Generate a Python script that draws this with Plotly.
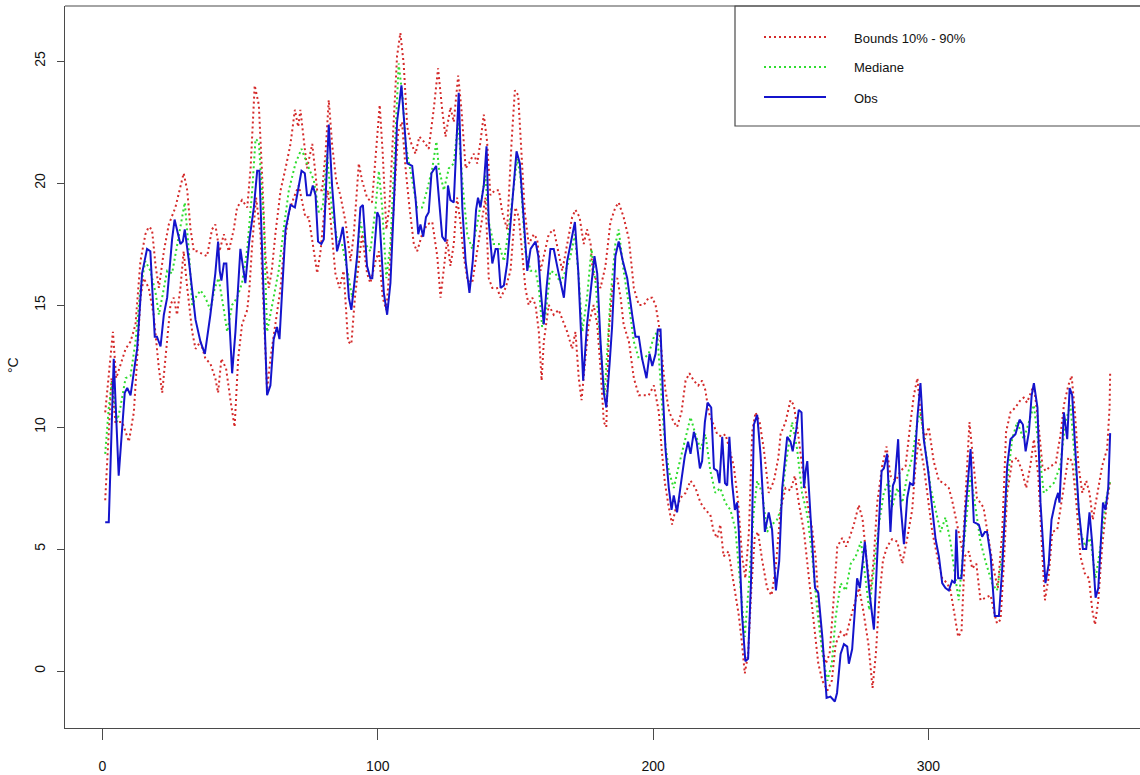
import plotly.graph_objects as go

# Observed daily temperature (day of year, degC)
obs_day = [1, 2.3, 4.1, 5.9, 8.1, 9.0, 10.2, 12.6, 14.4, 16.2, 17.4, 19.0, 19.8, 21.1, 22.3, 23.5, 25.3, 26.2,
           28.3, 29.2, 29.9, 31.4, 33.8, 35.6, 37.2, 39.2, 41.0, 42.0, 42.6, 43.2, 44.1, 45.0, 46.5, 47.1, 48.3,
           50.1, 51.9, 53.4, 55.0, 56.2, 57.0, 58.4, 59.8, 61.0, 62.2, 63.4, 64.3, 66.5, 68.3, 69.9, 72.3, 73.5,
           74.3, 75.5, 76.4, 77.4, 78.3, 79.5, 80.4, 82.2, 83.4, 85.2, 86.4, 87.3, 88.3, 89.5, 90.4, 91.3, 92.5,
           93.7, 94.6, 96.1, 97.3, 98.0, 99.8, 100.6, 102.2, 103.4, 104.6, 105.8, 107.0, 108.6, 109.8, 110.7,
           112.5, 113.7, 114.7, 115.5, 116.5, 117.5, 118.5, 119.5, 121.2, 122.2, 123.4, 124.6, 125.5, 126.4,
           127.6, 129.4, 130.7, 131.9, 133.3, 134.5, 135.7, 136.4, 137.3, 138.5, 139.5, 140.3, 141.6, 142.8,
           143.6, 144.6, 145.8, 147.0, 148.8, 150.4, 151.6, 153.0, 154.3, 155.5, 157.3, 158.3, 159.1, 160.3,
           161.3, 162.7, 163.9, 165.5, 167.6, 168.8, 170.4, 171.6, 172.8, 173.6, 174.6, 176.0, 177.3, 178.7,
           179.7, 180.9, 182.1, 183.0, 184.2, 185.1, 186.3, 187.5, 189.0, 190.6, 192.4, 193.6, 194.8, 196.0,
           197.6, 198.7, 199.7, 200.9, 201.7, 202.7, 203.5, 204.5, 205.7, 206.7, 207.5, 208.7, 210.0, 211.5,
           212.7, 213.6, 214.8, 215.8, 217.0, 217.8, 218.8, 219.8, 221.1, 222.1, 223.3, 224.1, 225.1, 226.1,
           226.9, 227.7, 228.7, 229.7, 230.5, 231.1, 232.3, 233.5, 234.5, 235.6, 236.6, 237.8, 239.0, 240.6,
           242.0, 243.2, 244.6, 245.8, 246.9, 248.7, 249.9, 250.7, 252.0, 252.9, 253.9, 254.8, 255.4, 256.0,
           257.2, 258.8, 260.0, 261.5, 263.0, 264.4, 266.0, 266.8, 268.1, 269.3, 270.5, 271.1, 272.3, 274.1,
           275.1, 276.9, 278.6, 280.2, 281.4, 283.0, 283.8, 285.0, 286.2, 287.1, 287.8, 289.0, 289.9, 291.1,
           292.3, 293.3, 294.5, 296.0, 297.1, 298.3, 299.9, 301.4, 302.6, 303.8, 305.0, 306.2, 307.4, 308.6,
           309.6, 310.1, 310.8, 312.0, 313.5, 315.3, 316.5, 318.3, 319.5, 320.5, 321.3, 322.6, 324.1, 325.6,
           326.8, 328.6, 329.8, 331.6, 333.1, 334.3, 335.3, 336.5, 337.5, 338.3, 339.6, 340.7, 341.9, 342.5,
           343.7, 344.7, 346.2, 347.1, 347.6, 348.6, 349.2, 350.4, 351.3, 352.2, 353.4, 354.6, 356.1, 357.3,
           358.5, 359.5, 360.7, 361.7, 363.4, 364.3, 365.3, 366]
obs_val = [6.1, 6.1, 12.8, 8.0, 11.4, 11.6, 11.3, 13.2, 16.3, 17.3, 17.2, 13.7, 13.7, 13.3, 14.6, 15.3, 17.7, 18.5,
           17.5, 17.6, 18.1, 16.8, 14.4, 13.5, 13.0, 14.6, 16.3, 17.6, 16.4, 16.0, 16.7, 16.7, 13.5, 12.2, 13.9,
           17.3, 15.9, 17.7, 19.0, 20.5, 20.5, 16.0, 11.3, 11.7, 13.6, 14.1, 13.6, 18.1, 19.1, 19.0, 20.5, 20.4,
           19.5, 19.5, 19.9, 19.5, 17.6, 17.5, 17.7, 22.4, 19.9, 17.2, 17.7, 18.2, 17.2, 15.3, 14.8, 15.7, 17.0,
           19.0, 19.1, 16.6, 16.1, 16.1, 18.8, 18.6, 15.5, 14.6, 15.9, 19.0, 22.5, 24.0, 21.9, 20.8,
           20.7, 19.4, 17.9, 18.3, 17.8, 18.6, 18.8, 20.4, 20.7, 19.5, 17.8, 17.6, 19.9, 19.3,
           19.2, 23.7, 19.0, 16.8, 15.5, 16.8, 18.9, 19.4, 19.0, 19.9, 21.5, 18.4, 16.7, 17.3,
           17.3, 15.7, 15.8, 16.7, 19.3, 21.3, 20.8, 18.3, 16.4, 17.3, 17.6, 17.0, 15.7, 14.2,
           15.7, 17.3, 17.3, 16.4, 15.3, 16.8, 17.7, 18.4, 16.4, 14.2, 11.9, 14.2, 15.5, 17.0,
           16.3, 13.5, 11.4, 10.8, 12.6, 14.1, 17.0, 17.6, 16.8, 16.1, 14.6, 13.7, 13.7, 12.8,
           12.0, 13.0, 12.5, 13.0, 14.0, 14.0, 11.5, 9.1, 7.5, 6.6, 7.2, 6.5, 7.6, 8.8,
           9.4, 8.9, 9.8, 9.4, 8.3, 8.6, 10.2, 11.0, 10.8, 8.3, 8.2, 7.7, 9.6, 7.7,
           7.6, 9.6, 7.7, 6.6, 6.9, 5.8, 2.3, 0.4, 0.5, 3.8, 10.1, 10.5, 8.9, 5.7,
           6.5, 5.8, 3.3, 4.5, 7.5, 9.6, 9.4, 9.0, 9.9, 10.7, 10.6, 7.5, 8.2, 8.6,
           6.3, 3.4, 3.2, 1.35, -1.1, -1.05, -1.25, -0.9, 0.7, 1.1, 1.0, 0.3, 0.9, 3.8,
           3.4, 5.3, 3.2, 1.7, 4.7, 8.2, 8.3, 8.9, 5.7, 7.6, 7.8, 9.5, 6.8, 5.2,
           7.1, 7.7, 7.6, 10.4, 11.8, 9.5, 8.2, 6.5, 5.4, 4.7, 3.6, 3.4, 3.3, 3.7,
           3.6, 5.8, 3.8, 3.8, 6.6, 9.1, 6.1, 6.0, 5.5, 5.7, 5.7, 4.7, 2.25, 2.25,
           4.2, 8.4, 9.5, 9.7, 10.3, 10.1, 9.0, 9.8, 11.3, 11.8, 10.8, 6.9, 4.6, 3.6,
           4.4, 6.2, 7.0, 7.3, 6.9, 9.1, 10.6, 9.5, 11.6, 11.3, 9.1, 6.6, 5.0, 5.0,
           6.5, 5.2, 3.0, 3.4, 6.9, 6.6, 7.5, 9.75]

# Ensemble median
med_day = [1, 2.3, 3.5, 5.3, 6.5, 8.4, 10.2, 12.0, 13.8, 15.6, 17.4, 19.3, 20.5, 21.7, 23.5, 25.3, 27.1, 28.3,
           29.9, 31.4, 32.6, 33.8, 35.6, 37.4, 39.2, 40.8, 42.2, 44.1, 45.3, 47.1, 48.9, 50.7, 52.6, 54.4, 55.6,
           56.8, 58.6, 59.8, 61.6, 64.0, 65.8, 67.7, 70.1, 72.3, 74.3, 76.8, 78.6, 80.0, 81.6, 83.4, 85.2, 87.0,
           89.5, 90.7, 91.9, 93.7, 95.5, 97.3, 99.2, 100.4, 101.6, 103.1, 104.6, 106.4, 107.6, 109.1, 110.1,
           112.5, 114.3, 116.1, 117.9, 119.8, 121.3, 122.2, 124.0, 125.8, 127.6, 129.2, 130.7, 132.5, 134.3,
           136.1, 137.9, 139.1, 140.3, 142.1, 144.0, 145.8, 147.6, 149.4, 150.6, 151.8, 153.6, 155.5, 157.3,
           158.5, 159.7, 160.9, 162.7, 164.5, 166.4, 168.2, 170.0, 171.6, 173.0, 174.3, 176.0, 177.6, 179.1,
           180.9, 182.4, 184.5, 186.3, 187.5, 189.3, 191.2, 193.0, 194.8, 196.6, 198.4, 200.3, 201.5, 202.7,
           203.9, 205.7, 207.5, 209.3, 211.8, 213.6, 215.4, 217.2, 219.0, 220.8, 222.6, 224.4, 226.2, 228.1,
           229.9, 231.7, 233.3, 234.8, 236.6, 237.8, 239.6, 241.4, 243.2, 245.0, 246.3, 248.1, 250.5, 252.3,
           254.1, 256.0, 257.8, 259.6, 261.5, 263.3, 264.9, 266.3, 268.1, 270.0, 271.8, 273.6, 275.5, 276.9,
           278.5, 280.2, 282.0, 283.8, 285.6, 286.8, 288.7, 290.5, 292.3, 294.1, 296.0, 297.1, 299.0, 300.8,
           302.6, 304.4, 306.2, 308.0, 309.8, 311.0, 312.8, 315.3, 317.1, 318.9, 320.7, 323.1, 324.9, 326.8,
           328.6, 330.4, 332.2, 334.6, 336.5, 338.3, 340.1, 341.9, 343.7, 345.5, 347.9, 349.7, 351.6, 353.4,
           355.2, 357.0, 358.8, 360.7, 362.5, 364.3, 366]
med_val = [8.9, 10.8, 11.9, 10.2, 10.8, 12.0, 12.1, 13.5, 15.7, 16.8, 16.4, 15.5, 14.6, 15.3, 16.4, 16.3, 17.5, 18.3,
           19.2, 17.2, 15.0, 15.3, 15.6, 15.3, 14.8, 15.7, 16.1, 14.8, 13.9, 15.0, 15.3, 15.9, 17.3, 19.7, 21.8,
           21.7, 18.4, 13.9, 15.0, 16.4, 18.1, 19.7, 20.8, 21.4, 20.8, 20.1, 18.8, 19.0, 21.2, 18.8, 17.7, 17.5,
           16.1, 15.3, 16.1, 18.4, 17.5, 17.2, 19.0, 20.5, 19.0, 16.1, 17.5, 22.1, 24.9, 23.4, 21.6,
           20.1, 19.0, 19.0, 19.7, 20.6, 21.7, 20.6, 19.7, 20.6, 20.8, 22.5, 20.1, 17.9, 17.3,
           18.3, 19.4, 20.3, 18.4, 17.5, 17.5, 16.8, 18.1, 19.7, 21.0, 20.3, 17.2, 16.4, 16.4,
           15.7, 14.1, 14.6, 16.4, 16.3, 15.9, 16.4, 17.0, 17.9, 16.1, 13.9, 15.3, 17.3, 15.9,
           13.3, 11.3, 15.3, 17.5, 18.1, 16.4, 15.0, 13.5, 12.8, 12.8, 13.0, 13.7, 13.9, 11.7,
           9.8, 8.2, 7.5, 8.4, 9.5, 10.4, 9.7, 9.1, 9.7, 8.2, 7.3, 7.5, 6.9, 6.6,
           5.8, 3.3, 1.4, 3.6, 6.6, 7.8, 7.3, 5.7, 6.0, 6.2, 6.6, 8.4, 10.2, 9.1,
           7.3, 6.4, 4.7, 2.5, 0.7, -0.4, 0.3, 2.2, 3.6, 3.3, 4.4, 4.7, 5.3, 4.0,
           2.5, 4.2, 6.0, 7.3, 7.8, 6.7, 7.5, 6.9, 8.0, 8.75, 10.2, 10.6, 9.1, 7.5,
           6.6, 5.7, 6.3, 5.3, 3.8, 2.9, 5.1, 8.0, 6.7, 5.3, 4.5, 3.6, 3.3, 4.7,
           7.7, 9.5, 10.2, 9.5, 10.2, 10.9, 9.1, 7.3, 7.5, 7.7, 8.4, 10.2, 10.9, 8.4,
           5.7, 5.1, 5.45, 3.8, 5.1, 6.9, 7.8]

# Upper bound (90 %)
up_day = [1, 3.8, 5.0, 8.4, 10.2, 12.0, 13.8, 15.6, 16.8, 18.0, 19.3, 20.5, 22.3, 24.1, 26.5, 28.3, 29.5, 30.8,
          32.0, 33.2, 34.4, 36.2, 38.0, 39.8, 41.0, 42.5, 44.1, 45.9, 47.7, 48.9, 50.7, 52.6, 53.8, 55.3, 56.8,
          58.0, 59.2, 60.4, 61.5, 62.8, 64.7, 66.5, 68.3, 69.9, 71.1, 71.9, 73.1, 74.3, 76.2, 78.0, 79.8, 81.0,
          82.2, 83.4, 84.9, 86.4, 88.3, 90.1, 91.3, 93.1, 94.3, 96.1, 97.9, 99.8, 100.7, 101.8, 103.1, 104.2,
          105.8, 107.0, 108.2, 109.4, 110.7, 111.9, 113.7, 115.1, 116.7, 118.5, 120.3, 121.9, 123.4, 124.6,
          126.4, 127.6, 129.2, 130.4, 131.9, 133.1, 134.9, 136.1, 137.3, 138.5, 139.7, 140.9, 142.5, 144.0,
          145.2, 147.0, 148.6, 149.8, 151.0, 152.2, 153.4, 154.8, 156.7, 157.9, 159.1, 160.7, 162.1, 163.9,
          165.5, 167.0, 168.8, 170.6, 171.8, 173.3, 174.8, 176.0, 177.3, 178.1, 180.9, 182.7, 184.5, 186.3,
          187.5, 189.3, 191.2, 193.0, 194.8, 196.6, 198.4, 199.7, 200.9, 202.1, 203.3, 204.5, 205.9, 207.5,
          208.7, 210.3, 211.8, 213.2, 214.8, 216.4, 217.8, 219.0, 220.2, 221.5, 223.3, 224.9, 226.3, 227.7,
          229.3, 230.9, 232.3, 233.5, 234.8, 236.0, 237.2, 238.7, 240.2, 242.0, 243.9, 245.5, 246.3, 248.1,
          249.9, 251.1, 252.7, 254.1, 256.0, 257.8, 259.0, 260.0, 261.2, 262.7, 264.1, 265.3, 266.9, 268.7,
          270.1, 271.3, 272.9, 274.7, 276.1, 277.4, 279.0, 280.2, 281.4, 283.2, 284.8, 286.2, 288.1, 289.9,
          291.7, 293.5, 294.7, 296.0, 297.1, 298.7, 300.1, 301.9, 303.8, 305.6, 307.4, 308.6, 312.4, 314.9,
          316.5, 317.6, 320.0, 321.8, 323.6, 325.2, 326.8, 328.2, 329.8, 331.6, 333.4, 334.6, 335.8, 337.5,
          338.3, 339.9, 341.4, 342.5, 344.4, 346.2, 348.0, 349.2, 350.8, 352.0, 353.2, 354.5, 355.9, 357.3,
          358.5, 359.7, 361.3, 363.1, 364.9, 365.8, 366]
up_val = [10.6, 13.9, 12.0, 13.2, 13.5, 14.2, 16.8, 17.9, 18.2, 18.1, 16.6, 15.7, 17.2, 18.3, 19.0, 19.9, 20.4, 19.7,
          18.1, 17.2, 17.2, 17.1, 17.0, 18.1, 18.3, 17.2, 17.9, 17.2, 18.1, 19.0, 19.3, 19.0, 20.6, 24.0, 23.2,
          20.3, 17.0, 15.7, 16.4, 17.9, 19.7, 20.6, 21.6, 23.0, 22.3, 23.0, 21.7, 20.6, 21.6, 19.7, 19.7, 21.2,
          23.4, 21.6, 20.1, 19.5, 18.4, 16.8, 17.9, 20.8, 20.1, 19.4, 19.2, 21.7, 23.2, 21.2, 18.1, 19.0,
          22.5, 25.2, 26.15, 24.9, 22.3, 21.7, 21.2, 21.9, 21.7, 21.4, 23.0, 24.7, 23.0, 21.9,
          23.1, 22.5, 24.4, 23.0, 20.6, 20.8, 21.2, 20.8, 21.7, 22.8, 21.7, 19.5, 19.7, 19.7,
          18.8, 18.1, 21.7, 23.8, 23.6, 21.2, 18.8, 17.5, 17.9, 17.7, 16.4, 17.2, 17.9, 18.1,
          17.2, 16.4, 17.5, 18.6, 18.9, 18.6, 17.5, 18.1, 17.5, 16.3, 15.7, 16.6, 18.4, 19.0,
          19.2, 18.6, 17.7, 15.7, 15.0, 15.0, 15.3, 15.3, 15.0, 14.2, 12.8, 11.5, 10.6, 10.2,
          10.0, 10.6, 11.9, 12.2, 11.9, 11.7, 11.9, 11.5, 10.6, 10.2, 9.7, 9.6, 9.7, 9.1,
          8.4, 6.9, 4.7, 3.8, 5.7, 9.8, 10.6, 10.2, 9.1, 7.3, 7.8, 8.75, 9.7, 10.2,
          11.1, 10.9, 9.7, 8.4, 6.9, 5.8, 4.7, 2.9, 1.1, 0.3, 0.7, 2.5, 5.1, 5.45,
          5.1, 5.45, 6.0, 6.8, 6.2, 4.7, 3.3, 4.7, 6.9, 8.4, 9.2, 8.0, 7.8, 8.2,
          8.4, 10.2, 11.3, 12.0, 10.6, 9.5, 10.0, 8.6, 7.8, 7.7, 7.5, 7.0, 4.9, 10.2,
          8.4, 7.1, 6.7, 5.45, 4.2, 3.4, 5.7, 9.8, 10.6, 10.8, 11.1, 11.2, 11.0, 11.5,
          11.7, 10.2, 8.4, 8.2, 8.4, 8.5, 9.7, 10.9, 11.7, 12.1, 10.6, 8.4, 7.3, 7.8,
          7.3, 6.2, 7.3, 8.4, 9.1, 10.8, 12.2]

# Lower bound (10 %)
low_day = [1, 2.3, 3.3, 4.7, 7.2, 9.6, 11.4, 12.6, 13.8, 15.0, 16.8, 18.6, 20.5, 21.7, 22.9, 24.7, 25.9, 27.1,
           28.3, 29.5, 30.8, 32.6, 33.8, 35.6, 37.4, 39.2, 41.0, 42.0, 43.2, 44.9, 46.5, 48.0, 49.3, 50.7, 52.6,
           53.4, 54.4, 55.8, 57.4, 58.6, 59.8, 61.0, 62.8, 64.7, 65.8, 67.7, 69.5, 71.3, 73.7, 74.9, 76.8, 78.0,
           79.2, 80.7, 81.9, 83.4, 84.6, 86.1, 87.6, 89.2, 90.4, 91.7, 93.1, 94.3, 96.1, 97.3, 99.2, 100.4,
           101.8, 103.1, 104.2, 105.8, 107.4, 108.8, 110.1, 111.5, 113.1, 114.3, 116.1, 117.9, 119.8, 121.6,
           122.8, 124.0, 125.2, 126.4, 127.6, 128.8, 130.0, 131.2, 132.5, 134.3, 136.1, 137.9, 139.1, 140.3,
           141.6, 143.3, 144.6, 146.4, 148.2, 150.0, 151.2, 152.4, 153.6, 154.8, 156.1, 157.3, 158.5, 159.5,
           160.3, 162.1, 163.9, 165.7, 168.8, 170.6, 171.8, 173.0, 174.0, 175.4, 176.6, 178.4, 179.7, 180.9,
           182.1, 183.0, 183.9, 185.4, 187.0, 188.2, 189.3, 191.2, 193.0, 194.8, 196.6, 198.4, 200.3, 202.1,
           203.1, 204.3, 205.7, 206.9, 208.1, 210.0, 211.8, 213.6, 215.4, 217.2, 219.0, 220.8, 222.0, 223.3,
           224.4, 225.6, 227.4, 229.3, 231.1, 232.3, 233.3, 234.5, 235.7, 236.9, 238.1, 239.6, 241.4, 243.0,
           244.5, 246.3, 248.1, 249.9, 251.5, 252.9, 254.8, 256.6, 258.4, 260.0, 261.5, 263.3, 264.9, 266.3,
           268.1, 270.0, 271.8, 273.4, 274.8, 276.3, 278.2, 279.7, 280.9, 282.1, 283.5, 285.0, 286.8, 288.7,
           290.5, 292.3, 294.1, 295.3, 296.5, 298.3, 299.9, 301.4, 303.2, 305.0, 306.8, 308.0, 309.5, 310.8,
           312.0, 313.2, 314.7, 315.9, 317.4, 318.9, 320.7, 322.6, 324.1, 324.9, 326.2, 327.4, 328.6, 330.4,
           332.2, 334.0, 335.5, 337.0, 338.3, 339.9, 341.4, 342.3, 343.6, 345.0, 346.8, 348.0, 349.2, 350.8,
           352.2, 353.7, 355.2, 356.8, 358.3, 359.5, 360.5, 361.7, 363.1, 364.5, 366]
low_val = [7.0, 10.2, 12.0, 10.2, 10.2, 9.4, 10.6, 12.8, 15.3, 16.1, 15.7, 14.6, 12.4, 11.4, 12.8, 15.0, 15.3, 14.6,
           15.7, 17.2, 15.7, 13.9, 13.2, 13.5, 12.8, 12.6, 12.0, 11.4, 12.8, 12.4, 11.1, 10.0, 12.8, 14.2, 14.8,
           15.7, 17.5, 19.4, 17.9, 14.8, 11.5, 12.8, 14.2, 15.7, 17.2, 18.8, 19.4, 19.9, 18.6, 18.6, 17.2, 16.3,
           17.2, 19.0, 19.7, 17.9, 16.3, 15.7, 16.4, 13.5, 13.4, 15.3, 16.8, 17.9, 16.3, 15.9, 16.8, 17.2,
           15.3, 14.8, 16.4, 19.0, 22.1, 22.5, 20.6, 19.0, 17.5, 17.2, 17.9, 18.3, 18.4, 17.0,
           15.3, 16.4, 17.7, 16.6, 17.5, 19.4, 18.4, 17.0, 16.1, 15.9, 17.2, 18.4, 19.4, 16.1,
           15.7, 15.7, 15.3, 15.7, 16.4, 19.0, 18.6, 17.2, 15.7, 15.0, 15.3, 15.0, 13.9, 11.9,
           13.5, 15.0, 14.6, 14.8, 13.9, 13.2, 13.9, 12.0, 11.1, 12.8, 14.2, 15.0, 14.2, 12.4,
           10.2, 10.0, 13.9, 15.9, 16.1, 15.3, 14.2, 13.5, 12.0, 11.3, 11.3, 11.3, 11.7, 10.6,
           9.1, 7.7, 6.7, 6.0, 6.6, 7.1, 7.3, 7.8, 7.5, 6.9, 6.6, 6.4, 5.7, 5.45,
           6.0, 4.7, 4.9, 3.6, 2.3, 1.1, -0.1, 0.7, 3.4, 5.45, 5.7, 4.55, 3.4, 3.1,
           4.2, 6.6, 7.5, 7.4, 8.0, 6.9, 5.7, 3.8, 2.0, 0.3, -0.4, -0.8, -0.4, 1.1,
           1.6, 1.4, 2.2, 2.9, 3.4, 2.5, 1.1, -0.7, 0.7, 2.9, 4.55, 5.1, 5.4, 5.3,
           4.4, 5.45, 6.6, 8.4, 9.5, 8.4, 6.9, 5.7, 4.7, 3.8, 3.6, 3.3, 2.3, 1.4,
           1.6, 4.7, 4.9, 4.2, 4.4, 2.9, 3.0, 3.1, 2.3, 1.95, 2.1, 4.4, 7.3, 8.6,
           8.75, 8.2, 7.5, 8.4, 9.5, 8.0, 4.7, 2.9, 3.8, 5.7, 5.8, 6.7, 7.7, 8.75,
           8.6, 6.9, 4.7, 4.0, 3.8, 2.5, 1.9, 2.9, 5.1, 6.6, 7.8]

x_ticks = [0, 100, 200, 300]
y_ticks = [0, 5, 10, 15, 20, 25]
legend_labels = ["Bounds 10% - 90%", "Mediane", "Obs"]

RED = "#D42A2A"
GREEN = "#2FDC2F"
BLUE = "#1414CC"
AXIS = "#4A4A4A"
FONT = "Liberation Sans, Arial, sans-serif"
DOT = "2px,3px"

fig = go.Figure()
fig.add_trace(go.Scatter(x=low_day, y=low_val, mode="lines", showlegend=False,
                         line=dict(color=RED, width=2, dash=DOT)))
fig.add_trace(go.Scatter(x=up_day, y=up_val, mode="lines", showlegend=False,
                         line=dict(color=RED, width=2, dash=DOT)))
fig.add_trace(go.Scatter(x=med_day, y=med_val, mode="lines", showlegend=False,
                         line=dict(color=GREEN, width=2, dash=DOT)))
fig.add_trace(go.Scatter(x=obs_day, y=obs_val, mode="lines", showlegend=False,
                         line=dict(color=BLUE, width=2)))

W, H = 1140, 775
ml, mr, mt, mb = 65, 0, 6, 47
pw, ph = W - ml - mr, H - mt - mb


def px_x(px):
    return (px - ml) / pw


def px_y(py):
    return (H - mb - py) / ph


# Legend box in the top-right corner of the plotting region
shapes = [dict(type="rect", xref="paper", yref="paper", x0=px_x(735), x1=1.05, y0=px_y(126), y1=1.0,
               line=dict(color=AXIS, width=1.2), fillcolor="white", layer="above")]
annotations = []
rows = [(37, RED, DOT), (67, GREEN, DOT), (97, BLUE, "solid")]
for (py, col, dash), label in zip(rows, legend_labels):
    shapes.append(dict(type="line", xref="paper", yref="paper", x0=px_x(764), x1=px_x(826),
                       y0=px_y(py), y1=px_y(py), line=dict(color=col, width=2, dash=dash), layer="above"))
    annotations.append(dict(xref="paper", yref="paper", x=px_x(852), y=px_y(py + 1), text=label,
                            showarrow=False, xanchor="left", yanchor="middle",
                            font=dict(family=FONT, size=13, color="#111")))

annotations.append(dict(xref="paper", yref="paper", x=px_x(13), y=px_y(365), text="°C", textangle=-90,
                        showarrow=False, xanchor="center", yanchor="middle",
                        font=dict(family=FONT, size=14, color="#111")))

fig.update_layout(
    width=W, height=H,
    margin=dict(l=ml, r=mr, t=mt, b=mb, pad=0),
    paper_bgcolor="white", plot_bgcolor="white",
    showlegend=False,
    shapes=shapes, annotations=annotations,
    xaxis=dict(range=[-13.6, -13.6 + pw / 2.7533], tickvals=x_ticks, ticks="outside", ticklen=11,
               tickcolor=AXIS, tickwidth=1, showline=True, linecolor=AXIS, linewidth=1.2,
               mirror=False, showgrid=False, zeroline=False, ticklabelstandoff=14,
               tickfont=dict(family=FONT, size=14, color="#111")),
    yaxis=dict(range=[(H - mb - 671) / -24.4, (671 - mt) / 24.4], tickvals=y_ticks, ticks="outside",
               ticklen=7, tickcolor=AXIS, tickwidth=1, showline=True, linecolor=AXIS, linewidth=1.2,
               mirror=False, showgrid=False, zeroline=False, tickangle=-90, ticklabelstandoff=6,
               tickfont=dict(family=FONT, size=14, color="#111")),
)
# Top edge of the plotting box
fig.add_shape(type="line", xref="paper", yref="paper", x0=0, x1=1, y0=1, y1=1,
              line=dict(color=AXIS, width=1.2))

fig.write_html("out.html")
